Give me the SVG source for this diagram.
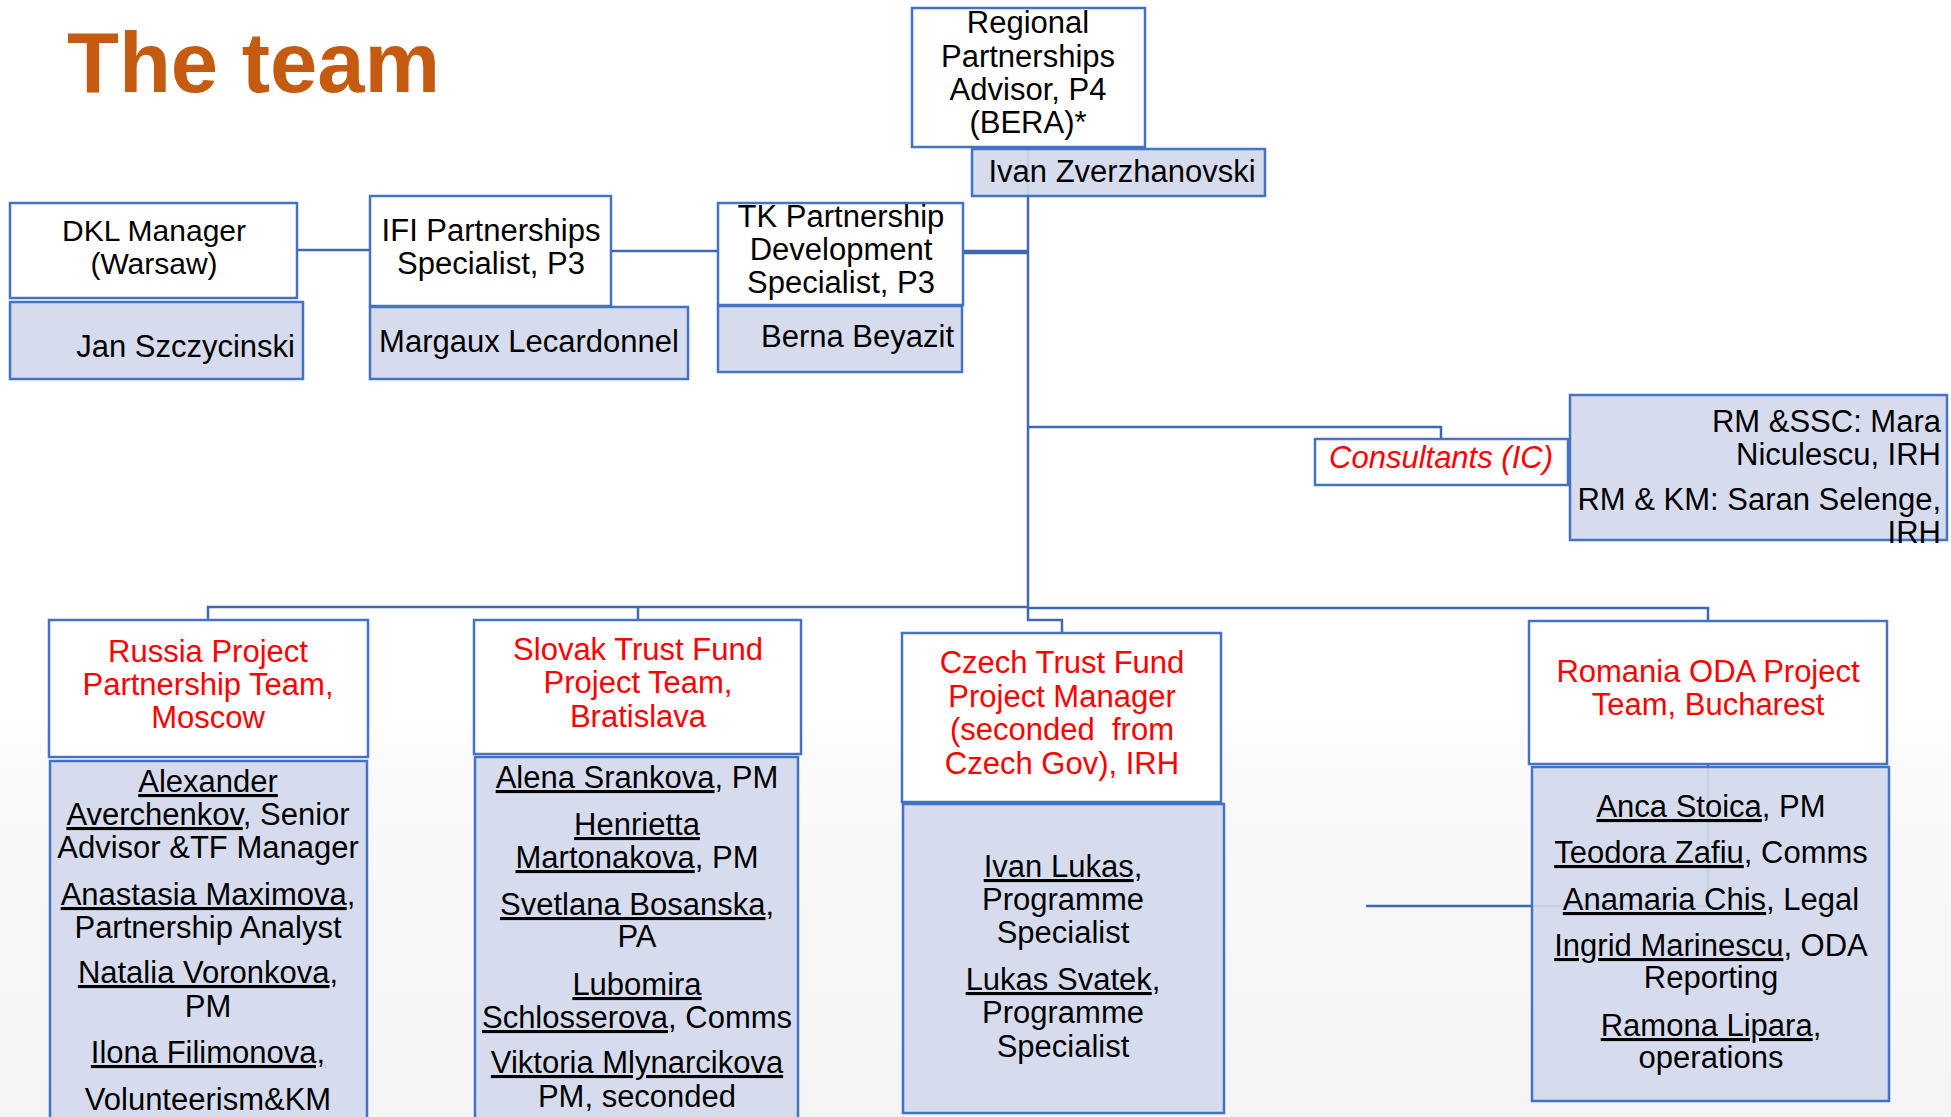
<svg xmlns="http://www.w3.org/2000/svg" width="1951" height="1117" viewBox="0 0 1951 1117">
<defs>
<linearGradient id="bg" x1="0" y1="0" x2="0" y2="1">
<stop offset="0" stop-color="#FFFFFF"/>
<stop offset="0.64" stop-color="#FFFFFF"/>
<stop offset="0.70" stop-color="#F9F9F9"/>
<stop offset="1" stop-color="#F5F5F5"/>
</linearGradient>
</defs>
<style>
.hdr{fill:#FFFFFF;stroke:#4472C4;stroke-width:2.5}
.body{fill:#D3D9EC;fill-opacity:0.92;stroke:#4472C4;stroke-width:2.5}
.t{font-family:"Liberation Sans",Arial,sans-serif;font-size:31px;fill:#000000;text-anchor:middle}
.r{fill:#FF0000}
.u{text-decoration:underline}
.con{fill:none;stroke:#4068B2;stroke-width:2.5}
.thick{stroke-width:4.5}
</style>
<rect x="0" y="0" width="1951" height="1117" fill="url(#bg)"/>
<text x="67" y="92" font-family="'Liberation Sans',Arial,sans-serif" font-size="85" font-weight="bold" fill="#C55A11">The team</text>

<g id="connectors">
<polyline class="con" points="1028,147 1028,620 1062,620 1062,633"/>
<line class="con thick" x1="963" y1="252" x2="1028" y2="252"/>
<line class="con" x1="611" y1="251" x2="718" y2="251"/>
<line class="con" x1="297" y1="250" x2="370" y2="250"/>
<polyline class="con" points="1028,427 1441,427 1441,439"/>
<polyline class="con" points="208,620 208,607 1028,607"/>
<polyline class="con" points="638,607 638,620"/>
<polyline class="con" points="1028,608 1708,608 1708,621"/>
<polyline class="con" points="1366,906 1708,906 1708,764"/>
</g>

<g id="regional">
<rect class="hdr" x="912" y="8" width="233" height="139"/>
<text class="t"><tspan x="1028" y="33">Regional</tspan><tspan x="1028" y="67">Partnerships</tspan><tspan x="1028" y="100">Advisor, P4</tspan><tspan x="1028" y="133">(BERA)*</tspan></text>
</g>
<g id="zverzhanovski">
<rect class="body" x="972" y="149" width="293" height="47"/>
<text class="t" x="1122" y="182">Ivan Zverzhanovski</text>
</g>

<g id="tk">
<rect class="hdr" x="718" y="203" width="245" height="102"/>
<text class="t"><tspan x="841" y="227">TK Partnership</tspan><tspan x="841" y="260">Development</tspan><tspan x="841" y="293">Specialist, P3</tspan></text>
</g>
<g id="beyazit">
<rect class="body" x="718" y="306" width="244" height="66"/>
<text class="t" x="954" y="347" style="text-anchor:end">Berna Beyazit</text>
</g>

<g id="ifi">
<rect class="hdr" x="370" y="196" width="241" height="110"/>
<text class="t"><tspan x="491" y="241">IFI Partnerships</tspan><tspan x="491" y="274">Specialist, P3</tspan></text>
</g>
<g id="lecardonnel">
<rect class="body" x="370" y="307" width="318" height="72"/>
<text class="t" x="529" y="352">Margaux Lecardonnel</text>
</g>

<g id="dkl">
<rect class="hdr" x="10" y="203" width="287" height="95"/>
<text class="t" style="font-size:30px"><tspan x="154" y="241">DKL Manager</tspan><tspan x="154" y="274">(Warsaw)</tspan></text>
</g>
<g id="szczycinski">
<rect class="body" x="10" y="302" width="293" height="77"/>
<text class="t" x="295" y="357" style="text-anchor:end">Jan Szczycinski</text>
</g>

<g id="consultants">
<rect class="hdr" x="1315" y="439" width="253" height="46"/>
<text class="t r" x="1441" y="468" font-style="italic">Consultants (IC)</text>
</g>
<g id="rm">
<rect class="body" x="1570" y="395" width="377" height="145"/>
<text class="t" style="text-anchor:end"><tspan x="1941" y="432">RM &amp;SSC: Mara</tspan><tspan x="1941" y="465">Niculescu, IRH</tspan><tspan x="1941" y="510">RM &amp; KM: Saran Selenge,</tspan><tspan x="1941" y="543">IRH</tspan></text>
</g>

<g id="russia">
<rect class="hdr" x="49" y="620" width="319" height="137"/>
<text class="t r"><tspan x="208" y="662">Russia Project</tspan><tspan x="208" y="695">Partnership Team,</tspan><tspan x="208" y="728">Moscow</tspan></text>
<rect class="body" x="50" y="761" width="317" height="370"/>
<text class="t"><tspan x="208" y="792" class="u">Alexander</tspan><tspan x="208" y="825"><tspan class="u">Averchenkov</tspan>, Senior</tspan><tspan x="208" y="858">Advisor &amp;TF Manager</tspan><tspan x="208" y="905"><tspan class="u">Anastasia Maximova</tspan>,</tspan><tspan x="208" y="938">Partnership Analyst</tspan><tspan x="208" y="983"><tspan class="u">Natalia Voronkova</tspan>,</tspan><tspan x="208" y="1017">PM</tspan><tspan x="208" y="1063" class="u">Ilona Filimonova,</tspan><tspan x="208" y="1110">Volunteerism&amp;KM</tspan></text>
</g>

<g id="slovak">
<rect class="hdr" x="474" y="620" width="327" height="134"/>
<text class="t r"><tspan x="638" y="660">Slovak Trust Fund</tspan><tspan x="638" y="693">Project Team,</tspan><tspan x="638" y="727">Bratislava</tspan></text>
<rect class="body" x="475" y="757" width="323" height="374"/>
<text class="t"><tspan x="637" y="788"><tspan class="u">Alena Srankova</tspan>, PM</tspan><tspan x="637" y="835" class="u">Henrietta</tspan><tspan x="637" y="868"><tspan class="u">Martonakova</tspan>, PM</tspan><tspan x="637" y="915"><tspan class="u">Svetlana Bosanska</tspan>,</tspan><tspan x="637" y="947">PA</tspan><tspan x="637" y="995" class="u">Lubomira</tspan><tspan x="637" y="1028"><tspan class="u">Schlosserova</tspan>, Comms</tspan><tspan x="637" y="1073" class="u">Viktoria Mlynarcikova</tspan><tspan x="637" y="1107">PM, seconded</tspan></text>
</g>

<g id="czech">
<rect class="hdr" x="902" y="633" width="319" height="169"/>
<text class="t r"><tspan x="1062" y="673">Czech Trust Fund</tspan><tspan x="1062" y="707">Project Manager</tspan><tspan x="1062" y="740" xml:space="preserve">(seconded  from</tspan><tspan x="1062" y="774">Czech Gov), IRH</tspan></text>
<rect class="body" x="903" y="804" width="321" height="309"/>
<text class="t"><tspan x="1063" y="877"><tspan class="u">Ivan Lukas</tspan>,</tspan><tspan x="1063" y="910">Programme</tspan><tspan x="1063" y="943">Specialist</tspan><tspan x="1063" y="990"><tspan class="u">Lukas Svatek</tspan>,</tspan><tspan x="1063" y="1023">Programme</tspan><tspan x="1063" y="1057">Specialist</tspan></text>
</g>

<g id="romania">
<rect class="hdr" x="1529" y="621" width="358" height="143"/>
<text class="t r"><tspan x="1708" y="682">Romania ODA Project</tspan><tspan x="1708" y="715">Team, Bucharest</tspan></text>
<rect class="body" x="1532" y="767" width="357" height="334"/>
<text class="t"><tspan x="1711" y="817"><tspan class="u">Anca Stoica</tspan>, PM</tspan><tspan x="1711" y="863"><tspan class="u">Teodora Zafiu</tspan>, Comms</tspan><tspan x="1711" y="910"><tspan class="u">Anamaria Chis</tspan>, Legal</tspan><tspan x="1711" y="956"><tspan class="u">Ingrid Marinescu</tspan>, ODA</tspan><tspan x="1711" y="988">Reporting</tspan><tspan x="1711" y="1036"><tspan class="u">Ramona Lipara</tspan>,</tspan><tspan x="1711" y="1068">operations</tspan></text>
</g>
</svg>
